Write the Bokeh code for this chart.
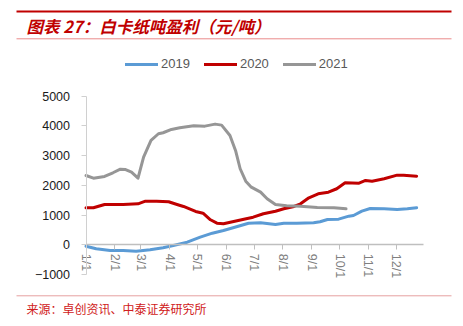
from bokeh.plotting import figure
from bokeh.models import Range1d, FixedTicker, Label, Legend, LegendItem
from bokeh.embed import file_html
from bokeh.resources import INLINE

# ---------------- data ----------------
month_days = [0, 31, 59, 90, 120, 151, 181, 212, 243, 273, 304, 334]
month_labels = ["1/1", "2/1", "3/1", "4/1", "5/1", "6/1", "7/1", "8/1", "9/1", "10/1", "11/1", "12/1"]

days_2019 = [0, 11, 26, 40, 54, 69, 83, 94, 109, 123, 136, 148, 163, 175, 188, 204, 213, 227,
             245, 252, 260, 272, 283, 288, 297, 306, 321, 335, 346, 356]
vals_2019 = [-47, -135, -192, -192, -215, -168, -101, -24, 88, 256, 391, 481, 616, 727, 740, 684, 727, 727,
             741, 774, 852, 862, 963, 987, 1131, 1222, 1212, 1189, 1212, 1246]

days_2020 = [0, 8, 20, 40, 56, 64, 76, 89, 98, 105, 118, 126, 134, 141, 148, 159, 170, 180, 191,
             204, 213, 224, 231, 240, 250, 261, 270, 279, 294, 301, 308, 321, 335, 342, 356]
vals_2020 = [1246, 1246, 1357, 1357, 1380, 1468, 1468, 1448, 1357, 1290, 1121, 1064, 842, 727, 707, 785, 862, 929, 1044,
             1131, 1212, 1290, 1380, 1582, 1717, 1771, 1886, 2088, 2074, 2165, 2141, 2222, 2343, 2343, 2310]

days_2021 = [0, 8, 20, 29, 37, 42, 49, 56, 62, 70, 78, 83, 92, 101, 116, 128, 139, 146, 155, 161, 166,
             172, 178, 188, 195, 204, 216, 231, 249, 267, 280]
vals_2021 = [2333, 2243, 2300, 2424, 2545, 2535, 2444, 2243, 2950, 3512, 3737, 3771, 3882, 3939, 4007, 3993, 4061, 4027,
             3680, 3175, 2559, 2142, 1940, 1771, 1549, 1357, 1313, 1300, 1256, 1246, 1212]

y_ticks = [-1000, 0, 1000, 2000, 3000, 4000, 5000]

title_text = "图表 27：白卡纸吨盈利（元/吨）"
source_text = "来源：卓创资讯、中泰证券研究所"

# ---------------- layout (pixel mapping) ----------------
W, H = 463, 326
KX = (395.7 - 85.5) / 334.0      # px per day
KY = (274.0 - 95.7) / 6000.0     # px per unit
X0 = -85.5 / KX
X1 = X0 + W / KX
Y1 = 244.3 / KY
Y0 = Y1 - H / KY


def dx(px):
    return X0 + px / KX


def dy(py):
    return Y1 - py / KY


p = figure(width=W, height=H, x_range=Range1d(X0, X1), y_range=Range1d(Y0, Y1),
           output_backend="svg", toolbar_location=None, min_border=0)
p.outline_line_color = None
p.xgrid.visible = False
p.ygrid.visible = False
p.background_fill_color = "white"
p.border_fill_color = "white"

# axes
xa = p.xaxis[0]
xa.fixed_location = 0
xa.bounds = (0, 363.5)
xa.ticker = FixedTicker(ticks=month_days)
xa.major_label_overrides = {d: l for d, l in zip(month_days, month_labels)}
xa.major_label_orientation = "vertical"
xa.axis_line_color = "#BFBFBF"
xa.axis_line_width = 1.5
xa.major_tick_line_color = "#BFBFBF"
xa.major_tick_out = 5
xa.major_tick_in = 0
xa.minor_tick_line_color = None
xa.major_label_text_color = "#808080"
xa.major_label_text_font = "Liberation Sans"
xa.major_label_text_font_size = "12.5px"
xa.major_label_standoff = 4

ya = p.yaxis[0]
ya.fixed_location = 0
ya.bounds = (-1000, 5000)
ya.ticker = FixedTicker(ticks=y_ticks)
ya.axis_line_color = "#D0D0D0"
ya.major_tick_line_color = "#D0D0D0"
ya.major_tick_out = 5
ya.major_tick_in = 0
ya.minor_tick_line_color = None
ya.major_label_text_color = "#1a1a1a"
ya.major_label_text_font = "Liberation Sans"
ya.major_label_text_font_size = "12.5px"
ya.major_label_standoff = 11

# series
r19 = p.line(days_2019, vals_2019, line_color="#5B9BD5", line_width=3, line_join="round", line_cap="round")
r20 = p.line(days_2020, vals_2020, line_color="#C00000", line_width=3, line_join="round", line_cap="round")
r21 = p.line(days_2021, vals_2021, line_color="#969696", line_width=3, line_join="round", line_cap="round")

legend = Legend(items=[LegendItem(label="2019", renderers=[r19]),
                       LegendItem(label="2020", renderers=[r20]),
                       LegendItem(label="2021", renderers=[r21])],
                orientation="horizontal", location=(125, 255),
                glyph_width=33, glyph_height=14, label_height=14, label_width=20,
                label_standoff=3, spacing=14, padding=0, margin=0,
                border_line_color=None, background_fill_alpha=0,
                label_text_font="Liberation Sans", label_text_font_size="13px",
                label_text_color="#595959", label_text_baseline="middle")
p.add_layout(legend)

# header / footer decorations
p.segment(x0=[dx(16)], y0=[dy(11)], x1=[dx(451)], y1=[dy(11)], line_color="#C00000", line_width=2.2)
p.segment(x0=[dx(16)], y0=[dy(38.3)], x1=[dx(451)], y1=[dy(38.3)], line_color="#EA8A8A", line_width=1)
p.segment(x0=[dx(16)], y0=[dy(295.3)], x1=[dx(451)], y1=[dy(295.3)], line_color="#E6A0A0", line_width=1)

p.add_layout(Label(x=dx(26), y=dy(25), text=title_text, text_baseline="middle", text_align="left",
                   text_font="Noto Sans CJK SC", text_font_style="bold italic", text_font_size="16.5px",
                   text_color="#C00000"))
p.add_layout(Label(x=dx(26), y=dy(308), text=source_text, text_baseline="middle", text_align="left",
                   text_font="Noto Sans CJK SC", text_font_size="12px", text_color="#D02020"))

open("out.html", "w").write(file_html(p, INLINE))
